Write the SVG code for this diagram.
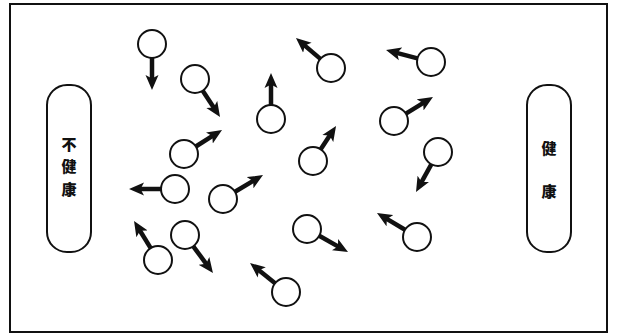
<svg xmlns="http://www.w3.org/2000/svg" width="617" height="336" viewBox="0 0 617 336">
<style>
.frame{fill:#fff;stroke:#111;stroke-width:2}
.pill{fill:#fff;stroke:#111;stroke-width:2}
.lbl{font-family:"Noto Sans CJK SC","Noto Sans CJK JP",sans-serif;font-size:15px;font-weight:900;fill:#111;text-anchor:middle;dominant-baseline:central}
.ball{fill:#fff;stroke:#111;stroke-width:2}
.arr{stroke:#111;stroke-width:4.5;fill:none;marker-end:url(#ah)}
</style>
<defs>
<marker id="ah" viewBox="0 -7 15 14" refX="8" refY="0" markerWidth="15" markerHeight="14" markerUnits="userSpaceOnUse" orient="auto">
<path d="M15,0 L0,-6.5 L3.5,0 L0,6.5 Z" fill="#111"/>
</marker>
</defs>
<rect class="frame" x="10" y="4" width="597" height="328"/>
<g id="unhealthy">
<rect class="pill" x="47" y="85" width="44" height="167" rx="20"/>
<text class="lbl" x="69" y="143">不</text>
<text class="lbl" x="69" y="165.5">健</text>
<text class="lbl" x="69" y="188">康</text>
</g>
<g id="healthy">
<rect class="pill" x="527" y="85" width="44" height="167" rx="20"/>
<text class="lbl" x="549" y="147">健</text>
<text class="lbl" x="549" y="190">康</text>
</g>
<g id="connectors">
<path class="arr" d="M152,58 L152,83"/>
<path class="arr" d="M202.7,90.7 L216.2,111.2"/>
<path class="arr" d="M271,105 L271,80"/>
<path class="arr" d="M195.8,146.5 L216.1,133.7"/>
<path class="arr" d="M320.4,58.9 L301.3,42.6"/>
<path class="arr" d="M417.5,58.4 L392.8,51.8"/>
<path class="arr" d="M405.9,113.7 L427,100.7"/>
<path class="arr" d="M320.7,149.3 L332.2,131.8"/>
<path class="arr" d="M431.3,164.3 L419.4,185.9"/>
<path class="arr" d="M161,189 L136,189"/>
<path class="arr" d="M235,191.8 L257,178.6"/>
<path class="arr" d="M193.3,246.3 L208.8,267.4"/>
<path class="arr" d="M150.7,248.1 L137.7,227"/>
<path class="arr" d="M275.1,283.2 L255.5,267.4"/>
<path class="arr" d="M319.2,235.8 L341.9,248.6"/>
<path class="arr" d="M405,229.8 L383,216.6"/>
</g>
<g id="b1"><circle class="ball" cx="152" cy="44" r="14"/></g>
<g id="b2"><circle class="ball" cx="195" cy="79" r="14"/></g>
<g id="b3"><circle class="ball" cx="271" cy="119" r="14"/></g>
<g id="b4"><circle class="ball" cx="184" cy="154" r="14"/></g>
<g id="b5"><circle class="ball" cx="331" cy="68" r="14"/></g>
<g id="b6"><circle class="ball" cx="431" cy="62" r="14"/></g>
<g id="b7"><circle class="ball" cx="394" cy="121" r="14"/></g>
<g id="b8"><circle class="ball" cx="313" cy="161" r="14"/></g>
<g id="b9"><circle class="ball" cx="438" cy="152" r="14"/></g>
<g id="b10"><circle class="ball" cx="175" cy="189" r="14"/></g>
<g id="b11"><circle class="ball" cx="223" cy="199" r="14"/></g>
<g id="b12"><circle class="ball" cx="185" cy="235" r="14"/></g>
<g id="b13"><circle class="ball" cx="158" cy="260" r="14"/></g>
<g id="b14"><circle class="ball" cx="286" cy="292" r="14"/></g>
<g id="b15"><circle class="ball" cx="307" cy="229" r="14"/></g>
<g id="b16"><circle class="ball" cx="417" cy="237" r="14"/></g>
</svg>
